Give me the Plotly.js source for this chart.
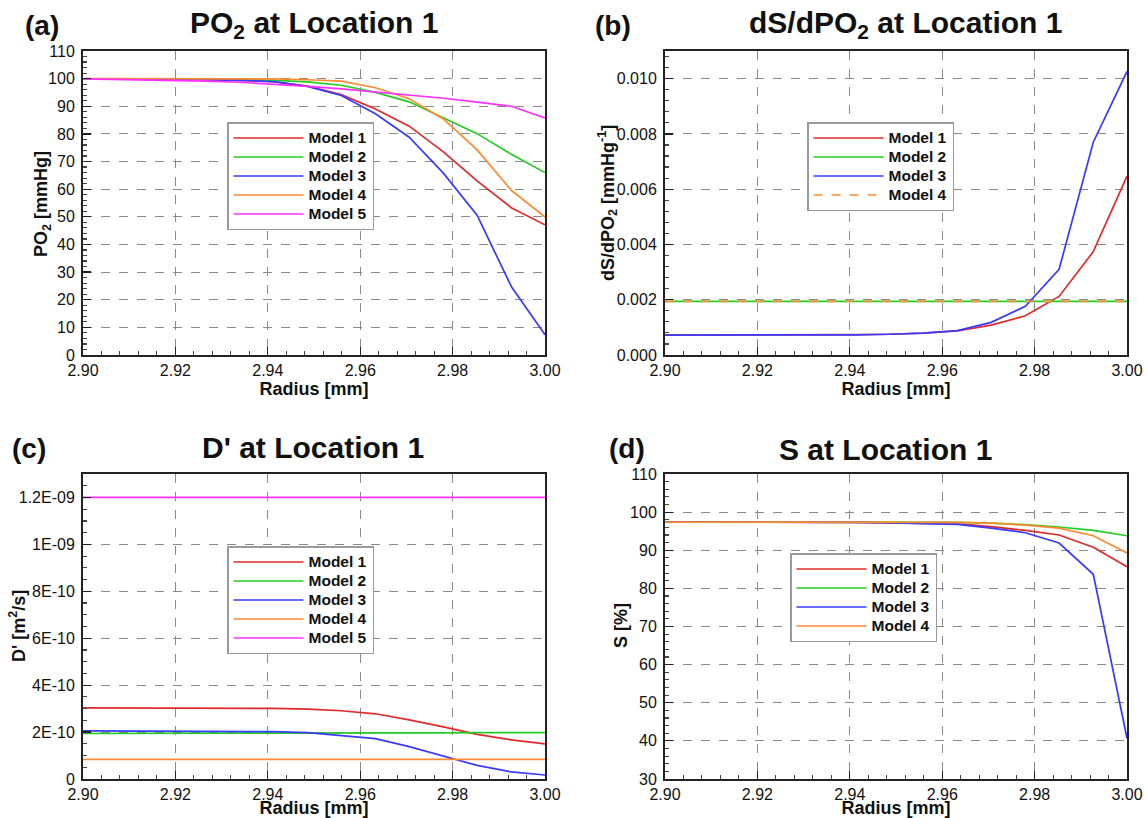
<!DOCTYPE html>
<html>
<head>
<meta charset="utf-8">
<script src="https://cdn.plot.ly/plotly-3.0.1.min.js"></script>
<style>html,body{margin:0;padding:0;background:#fff;}#chart{width:1145px;height:818px;}</style>
</head>
<body>
<div id="chart"></div>
<script>
// ---- data ----
const radius = [2.900, 2.9045, 2.9118, 2.9192, 2.9265, 2.9339, 2.9412, 2.9486, 2.9559, 2.9633, 2.9706, 2.9780, 2.9853, 2.9927, 3.000];
const modelNames = ["Model 1", "Model 2", "Model 3", "Model 4", "Model 5"];

// (a) PO2 [mmHg]
const po2_m1 = [99.9, 99.9, 99.8, 99.7, 99.6, 99.4, 98.9, 97.3, 94.2, 89.0, 82.8, 73.5, 63.0, 53.3, 47.1];
const po2_m2 = [99.9, 99.9, 99.9, 99.9, 99.8, 99.7, 99.4, 98.8, 97.6, 95.0, 91.6, 85.8, 80.1, 72.6, 66.0];
const po2_m3 = [99.9, 99.9, 99.8, 99.7, 99.6, 99.4, 98.9, 97.2, 93.9, 87.3, 78.8, 65.8, 50.6, 24.8, 7.3];
const po2_m4 = [100.0, 100.0, 100.0, 100.0, 100.0, 100.0, 99.9, 99.6, 99.1, 96.7, 92.7, 85.4, 74.2, 59.6, 49.9];
const po2_m5 = [99.9, 99.8, 99.6, 99.4, 99.1, 98.7, 98.0, 97.2, 96.3, 95.2, 94.1, 92.9, 91.5, 90.0, 85.8];

// (b) dS/dPO2 [mmHg^-1]
const dsd_m1 = [0.00072, 0.00072, 0.00072, 0.00072, 0.00073, 0.00073, 0.00074, 0.00075, 0.00079, 0.00087, 0.00108, 0.00142, 0.00212, 0.00374, 0.00647];
const dsd_m2 = [0.00194, 0.00194, 0.00194, 0.00194, 0.00194, 0.00194, 0.00194, 0.00194, 0.00194, 0.00194, 0.00194, 0.00194, 0.00194, 0.00194, 0.00194];
const dsd_m3 = [0.00072, 0.00072, 0.00072, 0.00072, 0.00072, 0.00072, 0.00073, 0.00075, 0.00079, 0.00088, 0.00118, 0.00176, 0.00310, 0.00770, 0.01026];
const dsd_m4 = [0.00194, 0.00194, 0.00194, 0.00194, 0.00194, 0.00194, 0.00194, 0.00194, 0.00194, 0.00194, 0.00194, 0.00194, 0.00194, 0.00194, 0.00194];

// (c) D' [m^2/s]
const d_m1 = [3.03e-10, 3.03e-10, 3.03e-10, 3.03e-10, 3.03e-10, 3.02e-10, 3.01e-10, 2.98e-10, 2.91e-10, 2.78e-10, 2.52e-10, 2.22e-10, 1.90e-10, 1.67e-10, 1.50e-10];
const d_m2 = [1.94e-10, 1.94e-10, 1.94e-10, 1.94e-10, 1.95e-10, 1.95e-10, 1.95e-10, 1.95e-10, 1.96e-10, 1.96e-10, 1.97e-10, 1.97e-10, 1.98e-10, 1.98e-10, 1.98e-10];
const d_m3 = [2.05e-10, 2.05e-10, 2.05e-10, 2.05e-10, 2.04e-10, 2.03e-10, 2.02e-10, 1.98e-10, 1.86e-10, 1.72e-10, 1.38e-10, 0.98e-10, 0.58e-10, 0.30e-10, 0.17e-10];
const d_m4 = [8.4e-11, 8.4e-11, 8.4e-11, 8.4e-11, 8.4e-11, 8.4e-11, 8.4e-11, 8.4e-11, 8.4e-11, 8.4e-11, 8.4e-11, 8.4e-11, 8.4e-11, 8.4e-11, 8.4e-11];
const d_m5 = [1.2e-9, 1.2e-9, 1.2e-9, 1.2e-9, 1.2e-9, 1.2e-9, 1.2e-9, 1.2e-9, 1.2e-9, 1.2e-9, 1.2e-9, 1.2e-9, 1.2e-9, 1.2e-9, 1.2e-9];

// (d) S [%]
const s_m1 = [97.4, 97.4, 97.4, 97.4, 97.4, 97.4, 97.3, 97.2, 97.1, 96.9, 96.2, 95.2, 94.0, 90.8, 85.7];
const s_m2 = [97.4, 97.4, 97.4, 97.4, 97.4, 97.4, 97.4, 97.4, 97.4, 97.3, 97.1, 96.7, 96.1, 95.2, 93.8];
const s_m3 = [97.4, 97.4, 97.4, 97.4, 97.4, 97.4, 97.3, 97.2, 97.0, 96.8, 95.8, 94.6, 91.9, 83.7, 40.7];
const s_m4 = [97.4, 97.4, 97.4, 97.4, 97.4, 97.4, 97.4, 97.4, 97.4, 97.3, 97.1, 96.6, 95.8, 93.8, 89.3];

// tick labels
const xTickVals = [2.90, 2.92, 2.94, 2.96, 2.98, 3.00];
const xTickText = ["2.90", "2.92", "2.94", "2.96", "2.98", "3.00"];
const dTickVals = [0, 2e-10, 4e-10, 6e-10, 8e-10, 1e-9, 1.2e-9];
const dTickText = ["0", "2E-10", "4E-10", "6E-10", "8E-10", "1E-09", "1.2E-09"];

// ---- styling ----
const colors = ["#e02a2a", "#22cc22", "#3a3aff", "#ff8a30", "#ff30ff"];
const FONT = "Liberation Sans, Arial, Helvetica, sans-serif";

function tr(y, i, xa, ya, leg, dash) {
  return {
    x: radius, y: y, type: "scatter", mode: "lines",
    name: '<span style="font-size:15.5px">' + modelNames[i] + '</span>',
    xaxis: xa, yaxis: ya, legend: leg,
    line: {color: colors[i], width: 1.7, dash: dash || "solid"}
  };
}

const data = [
  tr(po2_m1, 0, "x", "y", "legend"),
  tr(po2_m2, 1, "x", "y", "legend"),
  tr(po2_m3, 2, "x", "y", "legend"),
  tr(po2_m4, 3, "x", "y", "legend"),
  tr(po2_m5, 4, "x", "y", "legend"),
  tr(dsd_m1, 0, "x2", "y2", "legend2"),
  tr(dsd_m2, 1, "x2", "y2", "legend2"),
  tr(dsd_m3, 2, "x2", "y2", "legend2"),
  tr(dsd_m4, 3, "x2", "y2", "legend2", "dash"),
  tr(d_m1, 0, "x3", "y3", "legend3"),
  tr(d_m2, 1, "x3", "y3", "legend3"),
  tr(d_m3, 2, "x3", "y3", "legend3"),
  tr(d_m4, 3, "x3", "y3", "legend3"),
  tr(d_m5, 4, "x3", "y3", "legend3"),
  tr(s_m1, 0, "x4", "y4", "legend4"),
  tr(s_m2, 1, "x4", "y4", "legend4"),
  tr(s_m3, 2, "x4", "y4", "legend4"),
  tr(s_m4, 3, "x4", "y4", "legend4")
];

function xax(domain, anchor, standoff) {
  return {
    domain: domain, anchor: anchor, range: [2.9, 3.0],
    tickvals: xTickVals, ticktext: xTickText,
    ticks: "inside", ticklen: 8, tickwidth: 1.2, tickcolor: "#222",
    minor: {ticks: "inside", ticklen: 4, tickwidth: 1, tickcolor: "#444", dtick: 0.004, tick0: 2.9, showgrid: false},
    showline: true, linecolor: "#222", linewidth: 2, mirror: true,
    showgrid: true, gridcolor: "#8a8a8a", gridwidth: 1, griddash: "dash",
    zeroline: false,
    tickfont: {family: FONT, size: 16, color: "#111"},
    title: {text: "Radius [mm]", font: {family: FONT, size: 18, color: "#111", weight: "bold"}, standoff: standoff}
  };
}
function yax(domain, anchor, range, extra) {
  const a = {
    domain: domain, anchor: anchor, range: range,
    ticks: "inside", ticklen: 8, tickwidth: 1.2, tickcolor: "#222",
    showline: true, linecolor: "#222", linewidth: 2, mirror: true,
    showgrid: true, gridcolor: "#8a8a8a", gridwidth: 1, griddash: "dash",
    zeroline: false, ticklabelstandoff: 3,
    tickfont: {family: FONT, size: 16, color: "#111"}
  };
  return Object.assign(a, extra);
}

function legendBox(x, y) {
  return {
    x: x, y: y, xanchor: "left", yanchor: "top",
    bgcolor: "#ffffff", bordercolor: "#9a9a9a", borderwidth: 1.5,
    font: {family: FONT, size: 12.3, color: "#111", weight: "bold"},
    itemwidth: 70, tracegroupgap: 0
  };
}

function ann(text, x, y, size, angle) {
  return {text: text, x: x, y: y, xref: "paper", yref: "paper", xanchor: "center", yanchor: "middle",
    textangle: angle || 0,
    showarrow: false, font: {family: FONT, size: size, color: "#111", weight: "bold"}};
}

const W = 1145, H = 818;
const layout = {
  width: W, height: H,
  margin: {l: 0, r: 0, t: 0, b: 0},
  paper_bgcolor: "#ffffff", plot_bgcolor: "#ffffff",
  showlegend: true,
  xaxis: xax([83 / W, 545 / W], "y", 3),
  yaxis: yax([1 - 355 / H, 1 - 51 / H], "x", [0, 110],
    {dtick: 10, tick0: 0, minor: {ticks: "inside", ticklen: 4, tickcolor: "#444", dtick: 2, showgrid: false}}),
  xaxis2: xax([665 / W, 1127 / W], "y2", 3),
  yaxis2: yax([1 - 355 / H, 1 - 51 / H], "x2", [0, 0.011],
    {dtick: 0.002, tick0: 0, tickformat: ".3f", minor: {ticks: "inside", ticklen: 4, tickcolor: "#444", dtick: 0.0004, showgrid: false}}),
  xaxis3: xax([83 / W, 545 / W], "y3", 6),
  yaxis3: yax([1 - 779 / H, 1 - 474 / H], "x3", [0, 1.3e-9],
    {tickvals: dTickVals, ticktext: dTickText, minor: {ticks: "inside", ticklen: 4, tickcolor: "#444", dtick: 5e-11, tick0: 0, showgrid: false}}),
  xaxis4: xax([665 / W, 1127 / W], "y4", 6),
  yaxis4: yax([1 - 779 / H, 1 - 474 / H], "x4", [30, 110],
    {dtick: 10, tick0: 0, minor: {ticks: "inside", ticklen: 4, tickcolor: "#444", dtick: 2, showgrid: false}}),
  legend: legendBox(227 / W, 1 - 122 / H),
  legend2: legendBox(807 / W, 1 - 122 / H),
  legend3: legendBox(227 / W, 1 - 546 / H),
  legend4: legendBox(790 / W, 1 - 553 / H),
  annotations: [
    ann("(a)", 42 / W, 1 - 26 / H, 28),
    ann("PO<sub>2</sub> at Location 1", 314 / W, 1 - 24 / H, 30),
    ann("(b)", 613 / W, 1 - 26 / H, 28),
    ann("dS/dPO<sub>2</sub> at Location 1", 905 / W, 1 - 24 / H, 30),
    ann("(c)", 29 / W, 1 - 448 / H, 28),
    ann("D' at Location 1", 313 / W, 1 - 447 / H, 30),
    ann("(d)", 627 / W, 1 - 448 / H, 28),
    ann("S at Location 1", 885 / W, 1 - 449 / H, 30),
    ann("PO<sub>2</sub> [mmHg]", 42 / W, 1 - 204 / H, 18, -90),
    ann("dS/dPO<sub>2</sub> [mmHg<sup>-1</sup>]", 607 / W, 1 - 203 / H, 18, -90),
    ann("D' [m<sup>2</sup>/s]", 17 / W, 1 - 626 / H, 18, -90),
    ann("S [%]", 621 / W, 1 - 626 / H, 18, -90)
  ]
};

Plotly.newPlot("chart", data, layout, {displayModeBar: false, staticPlot: true});
</script>
</body>
</html>
